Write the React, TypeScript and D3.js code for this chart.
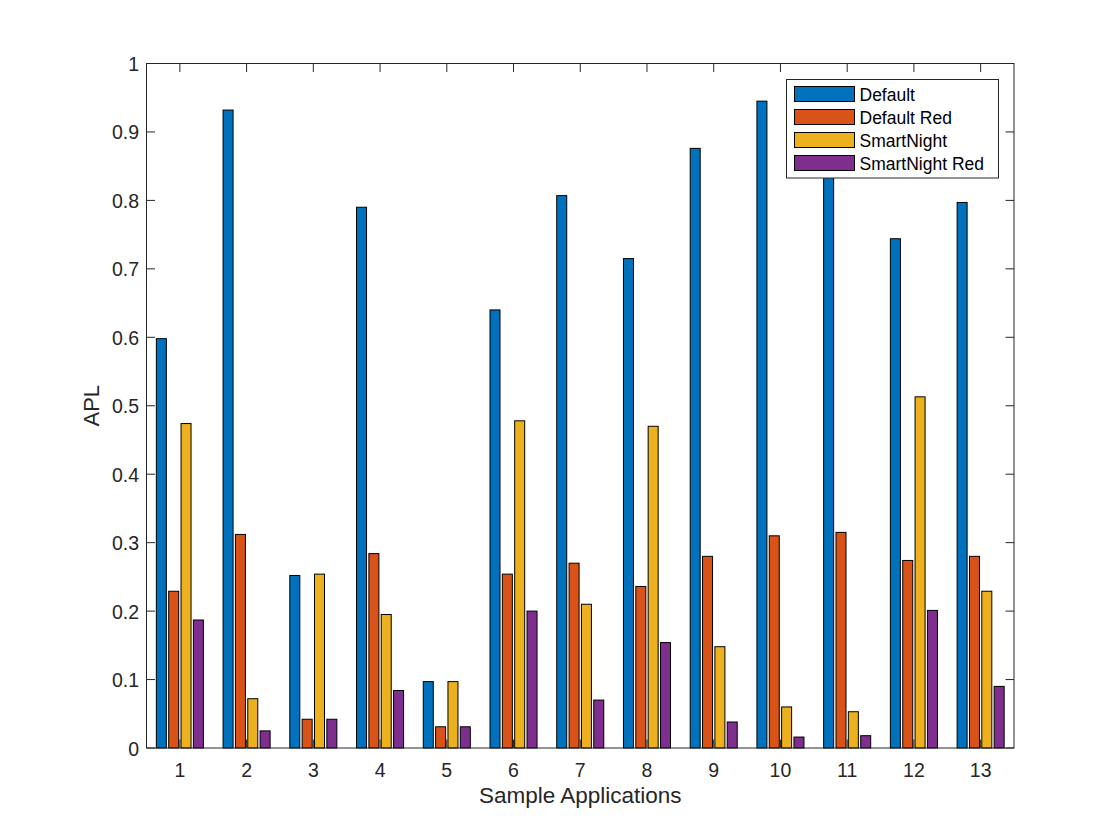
import React, { useEffect } from "react";
import * as d3 from "d3";

// chart data
const categories = ["1", "2", "3", "4", "5", "6", "7", "8", "9", "10", "11", "12", "13"];
const seriesNames = ["Default", "Default Red", "SmartNight", "SmartNight Red"];
const defaultVals = [0.598, 0.932, 0.252, 0.79, 0.097, 0.64, 0.807, 0.715, 0.876, 0.945, 0.86, 0.744, 0.797];
const defaultRedVals = [0.229, 0.312, 0.042, 0.284, 0.031, 0.254, 0.27, 0.236, 0.28, 0.31, 0.315, 0.274, 0.28];
const smartNightVals = [0.474, 0.072, 0.254, 0.195, 0.097, 0.478, 0.21, 0.47, 0.148, 0.06, 0.053, 0.513, 0.229];
const smartNightRedVals = [0.187, 0.025, 0.042, 0.084, 0.031, 0.2, 0.07, 0.154, 0.038, 0.016, 0.018, 0.201, 0.09];
const yTicks = [0, 0.1, 0.2, 0.3, 0.4, 0.5, 0.6, 0.7, 0.8, 0.9, 1];

const colors = ["#0072BD", "#D95319", "#EDB120", "#7E2F8E"];
const allSeries = [defaultVals, defaultRedVals, smartNightVals, smartNightRedVals];

const width = 1120;
const height = 840;
const margin = { top: 63.5, right: 106, bottom: 92, left: 146.5 };
const font = "'Liberation Sans', Arial, Helvetica, sans-serif";
const textColor = "#262626";

const App = () => {
  useEffect(() => {
    document.body.style.margin = "0";
  }, []);

  const x = d3
    .scaleLinear()
    .domain([0.5, categories.length + 0.5])
    .range([margin.left, width - margin.right]);
  const y = d3.scaleLinear().domain([0, 1]).range([height - margin.bottom, margin.top]);

  const step = 0.185; // offset between bars in a group (category units)
  const barW = 0.15;
  const tickLen = 8.5;
  const x0 = margin.left;
  const x1 = width - margin.right;
  const y0 = height - margin.bottom;
  const y1 = margin.top;

  // legend
  const lx = 786.5;
  const ly = 79.5;
  const lw = 212;
  const lh = 98.5;
  const rowH = 23;

  return (
    <svg width={width} height={height} style={{ display: "block", background: "#fff" }} fontFamily={font}>
      {/* bars */}
      {allSeries.map((vals, s) => (
        <g key={s}>
          {vals.map((v, i) => {
            const cx = x(i + 1 + (s - 1.5) * step);
            const bw = x(barW) - x(0);
            return (
              <rect
                key={i}
                x={cx - bw / 2}
                y={y(v)}
                width={bw}
                height={y(0) - y(v)}
                fill={colors[s]}
                stroke="#000"
                strokeWidth={1}
              />
            );
          })}
        </g>
      ))}

      {/* axes box */}
      <rect x={x0} y={y1} width={x1 - x0} height={y0 - y1} fill="none" stroke={textColor} strokeWidth={1} />

      {/* x ticks */}
      {categories.map((c, i) => (
        <g key={c}>
          <line x1={x(i + 1)} x2={x(i + 1)} y1={y0} y2={y0 - tickLen} stroke={textColor} />
          <line x1={x(i + 1)} x2={x(i + 1)} y1={y1} y2={y1 + tickLen} stroke={textColor} />
          <text x={x(i + 1)} y={777} textAnchor="middle" fontSize={19.5} fill={textColor}>
            {c}
          </text>
        </g>
      ))}

      {/* y ticks */}
      {yTicks.map((t) => (
        <g key={t}>
          <line x1={x0} x2={x0 + tickLen} y1={y(t)} y2={y(t)} stroke={textColor} />
          <line x1={x1} x2={x1 - tickLen} y1={y(t)} y2={y(t)} stroke={textColor} />
          <text x={x0 - 7.5} y={y(t) + 7.5} textAnchor="end" fontSize={19.5} fill={textColor}>
            {d3.format("~g")(t)}
          </text>
        </g>
      ))}

      {/* axis labels */}
      <text x={(x0 + x1) / 2} y={803} textAnchor="middle" fontSize={22.5} fill={textColor}>
        Sample Applications
      </text>
      <text
        transform={`translate(99,${(y0 + y1) / 2}) rotate(-90)`}
        textAnchor="middle"
        fontSize={22}
        fill={textColor}
      >
        APL
      </text>

      {/* legend */}
      <rect x={lx} y={ly} width={lw} height={lh} fill="#fff" stroke={textColor} strokeWidth={1} />
      {seriesNames.map((name, i) => (
        <g key={name}>
          <rect
            x={lx + 8}
            y={ly + 7 + i * rowH}
            width={60}
            height={15}
            fill={colors[i]}
            stroke="#000"
            strokeWidth={1}
          />
          <text x={lx + 73} y={ly + 21 + i * rowH} fontSize={17.5} fill="#000">
            {name}
          </text>
        </g>
      ))}
    </svg>
  );
};

export default App;
